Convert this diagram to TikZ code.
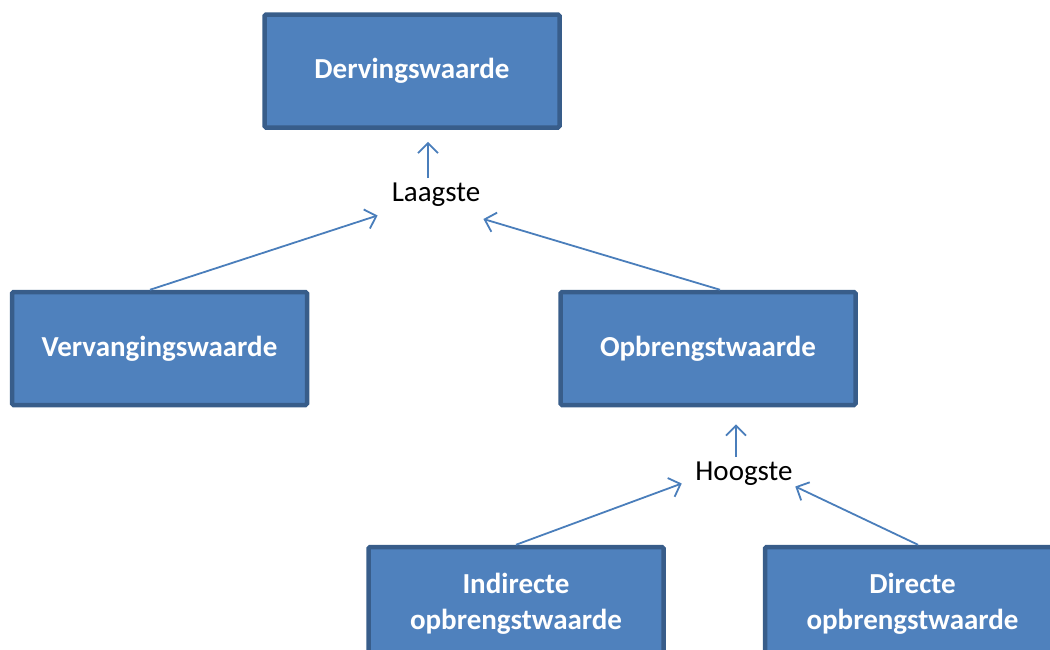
\documentclass[tikz,border=0pt]{standalone}
\usepackage{fontspec}
\setmainfont{Carlito}
\usetikzlibrary{arrows.meta,positioning}
\definecolor{boxfill}{HTML}{4F81BD}
\definecolor{boxline}{HTML}{385D8A}
\definecolor{arrowline}{HTML}{4A7EBB}
\begin{document}
\begin{tikzpicture}[
  x=1pt, y=-1pt,
  flow/.style={-{Straight Barb[length=10pt,width=20pt]}, line width=1.8pt, draw=arrowline},
  waarde/.style={rectangle, rounded corners=1.5pt, draw=boxline, line width=4.5pt,
    fill=boxfill, text=white, align=center, minimum width=295pt, minimum height=113pt,
    inner sep=3pt, font=\fontsize{29}{36}\selectfont\bfseries},
  keuze/.style={inner sep=5pt, font=\fontsize{29}{35}\selectfont}
]
\useasboundingbox (0,0) rectangle (1050,649);
\clip (0,0) rectangle (1050,649);
\node[waarde] (derving) at (412,71) {Dervingswaarde};
\node[keuze] (laagste) at (436,195) {Laagste};
\node[waarde] (vervanging) at (159.5,348.5) {Vervangingswaarde};
\node[waarde] (opbrengst) at (708,348.5) {Opbrengstwaarde};
\node[keuze] (hoogste) at (744,474) {Hoogste};
\node[waarde] (indirect) at (516,603.5) {Indirecte\\opbrengstwaarde};
\node[waarde] (direct) at (912.5,603.5) {Directe\\opbrengstwaarde};
\draw[flow] ([xshift=-8pt]laagste.north) -- ([xshift=-8pt,yshift=-12pt]laagste.north |- derving.south);
\draw[flow] ([xshift=-9.5pt]vervanging.north) -- ([xshift=-9pt,yshift=-3.5pt]laagste.south west);
\draw[flow] ([xshift=12pt]opbrengst.north) -- ([xshift=-2pt,yshift=-7pt]laagste.south east);
\draw[flow] ([xshift=-8pt]hoogste.north) -- ([xshift=-8pt,yshift=-17pt]hoogste.north |- opbrengst.south);
\draw[flow] (indirect.north) -- ([xshift=-8.5pt,yshift=7.5pt]hoogste.south west);
\draw[flow] ([xshift=5.5pt]direct.north) -- ([xshift=-2.5pt,yshift=4.5pt]hoogste.south east);
\end{tikzpicture}
\end{document}
